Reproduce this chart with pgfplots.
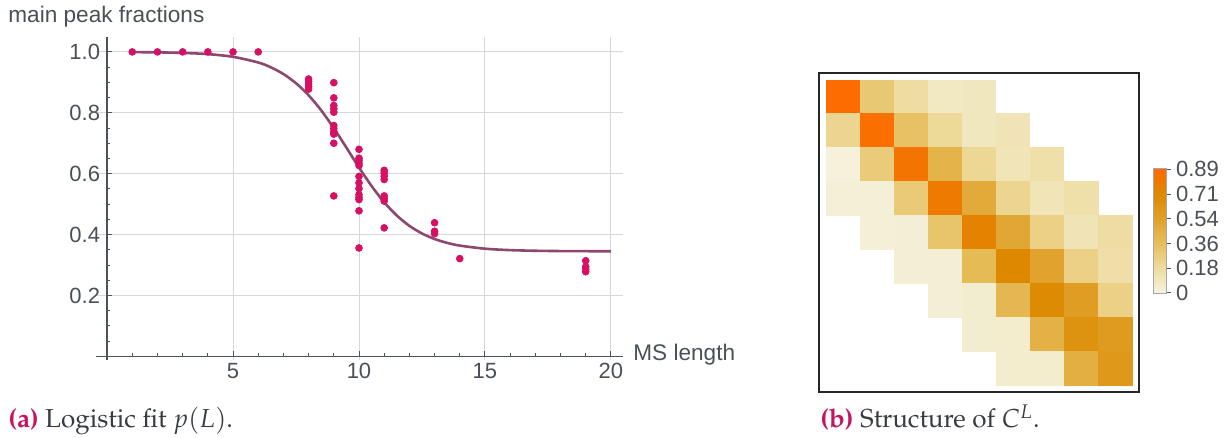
\documentclass[border=0pt]{standalone}
\usepackage[T1]{fontenc}
\usepackage{mathpazo}
\usepackage{fontspec}
\usepackage{pgfplots}
\pgfplotsset{compat=1.18}
\newfontfamily\chartfont{Liberation Sans}
\definecolor{axisgray}{RGB}{77,83,90}
\definecolor{txtgray}{RGB}{74,80,87}
\definecolor{gridgray}{RGB}{215,215,215}
\definecolor{ptcol}{RGB}{214,16,98}
\definecolor{fitcol}{RGB}{140,72,110}
\definecolor{capmag}{RGB}{200,20,95}
\definecolor{captxt}{RGB}{55,60,66}
\pgfplotsset{colormap={cream}{rgb255(0cm)=(245,242,222) rgb255(1.8cm)=(238,220,160) rgb255(3.6cm)=(230,190,92) rgb255(5.4cm)=(224,160,40) rgb255(7.1cm)=(220,138,0) rgb255(9cm)=(255,106,0)}}
\pgfplotstableread{
x y
1 1.0
2 1.0
3 1.0
4 1.0
5 1.0
6 1.0
8 0.911
8 0.903
8 0.895
8 0.887
8 0.878
9 0.899
9 0.849
9 0.824
9 0.813
9 0.802
9 0.758
9 0.748
9 0.738
9 0.730
9 0.700
9 0.527
10 0.680
10 0.651
10 0.644
10 0.635
10 0.627
10 0.591
10 0.570
10 0.551
10 0.531
10 0.522
10 0.515
10 0.478
10 0.356
11 0.611
11 0.602
11 0.592
11 0.581
11 0.527
11 0.518
11 0.510
11 0.422
13 0.439
13 0.411
13 0.403
14 0.321
19 0.314
19 0.294
19 0.286
19 0.278
}\pts
\pgfplotstableread{
x y
1 0.9993
2 0.9985
3 0.9967
4 0.9927
5 0.9839
6 0.9652
6.5 0.9494
7 0.9273
7.5 0.8971
8 0.8575
8.5 0.8080
9 0.7496
9.5 0.6856
10 0.6205
10.5 0.5594
11 0.5061
11.5 0.4626
12 0.4287
12.5 0.4036
13 0.3855
13.5 0.3727
14 0.3638
15 0.3536
16 0.3489
17 0.3468
18 0.3458
19 0.3454
20 0.3452
}\fit
\pgfplotstableread{
x y c
1 1 0.89
2 1 0.30
3 1 0.18
4 1 0.08
5 1 0.09
1 2 0.22
2 2 0.87
3 2 0.34
4 2 0.20
5 2 0.09
6 2 0.12
1 3 0.01
2 3 0.28
3 3 0.84
4 3 0.42
5 3 0.21
6 3 0.11
7 3 0.15
1 4 0.02
2 4 0.02
3 4 0.29
4 4 0.80
5 4 0.48
6 4 0.22
7 4 0.11
8 4 0.15
2 5 0.02
3 5 0.03
4 5 0.32
5 5 0.76
6 5 0.50
7 5 0.25
8 5 0.12
9 5 0.17
3 6 0.03
4 6 0.03
5 6 0.38
6 6 0.72
7 6 0.52
8 6 0.25
9 6 0.16
4 7 0.03
5 7 0.04
6 7 0.40
7 7 0.70
8 7 0.56
9 7 0.25
5 8 0.04
6 8 0.05
7 8 0.44
8 8 0.64
9 8 0.58
6 9 0.05
7 9 0.05
8 9 0.45
9 9 0.60
}\cells
\begin{document}
\begin{tikzpicture}
\path[use as bounding box] (0,0) rectangle (613pt,219pt);
\begin{axis}[
  at={(48pt,39pt)}, anchor=south west,
  scale only axis, width=263.5pt, height=161.5pt,
  xmin=-0.44, xmax=20.48, ymin=-0.012, ymax=1.049,
  axis lines=middle,
  axis line style={color=axisgray, line width=0.6pt, -},
  xtick={5,10,15,20}, ytick={0.2,0.4,0.6,0.8,1.0},
  minor xtick={1,2,3,4,6,7,8,9,11,12,13,14,16,17,18,19},
  minor ytick={0.05,0.1,0.15,0.25,0.3,0.35,0.45,0.5,0.55,0.65,0.7,0.75,0.85,0.9,0.95,1.05},
  grid=major, major grid style={gridgray, line width=0.5pt},
  tick align=inside,
  major tick length=2.5pt, minor tick length=1.6pt,
  tick style={color=axisgray, line width=0.5pt},
  ticklabel style={font=\chartfont\fontsize{11}{13}\selectfont, color=txtgray},
  /pgf/number format/assume math mode=true,
  yticklabel style={/pgf/number format/.cd, fixed, fixed zerofill, precision=1},
  clip=false,
]
\addplot[fitcol, line width=1.3pt, smooth] table[x=x,y=y] {\fit};
\addplot[only marks, mark=*, mark size=1.7pt, color=ptcol] table[x=x,y=y] {\pts};
\end{axis}
\node[anchor=west, font=\chartfont\fontsize{11.3}{13}\selectfont, text=txtgray, inner sep=0pt] at (4pt,210.5pt) {main peak fractions};
\node[anchor=west, font=\chartfont\fontsize{11.3}{13}\selectfont, text=txtgray, inner sep=0pt] at (316.5pt,41.5pt) {MS length};
\begin{axis}[
  at={(409.5pt,23pt)}, anchor=south west,
  scale only axis, width=160pt, height=159.5pt,
  xmin=0.3, xmax=9.7, ymin=0.3, ymax=9.7, y dir=reverse,
  xtick=\empty, ytick=\empty,
  axis line style={color=black!85, line width=0.6pt},
  colormap name=cream,
  point meta min=0, point meta max=0.9,
  colorbar,
  colorbar style={
    at={(parent axis.east)}, anchor=west, xshift=-1.5pt, yshift=1pt,
    width=6.5pt, height=62.5pt,
    ytick={0,0.178,0.356,0.534,0.712,0.89},
    yticklabels={0,0.18,0.36,0.54,0.71,0.89},
    yticklabel style={font=\chartfont\fontsize{11}{13}\selectfont, color=txtgray, xshift=-1pt},
    ytick style={color=axisgray, line width=0.5pt},
    ytick pos=right,
    major tick length=2.5pt, tick align=outside,
    axis line style={color=gray!70, line width=0.4pt},
  },
]
\addplot[scatter, only marks, mark=square*, mark size=8.4pt, point meta=explicit,
  scatter/use mapped color={draw=mapped color, fill=mapped color}, line width=0.4pt]
  table[x=x, y=y, meta=c] {\cells};
\end{axis}
\node[anchor=base west, inner sep=0pt, text=captxt] at (4pt,5pt) {\fontencoding{T1}\fontfamily{ppl}\fontsize{13}{15}\selectfont{\color{capmag}\bfseries (a)} Logistic fit $p(L)$.};
\node[anchor=base west, inner sep=0pt, text=captxt] at (410pt,5pt) {\fontencoding{T1}\fontfamily{ppl}\fontsize{13}{15}\selectfont{\color{capmag}\bfseries (b)} Structure of $C^L$.};
\end{tikzpicture}
\end{document}
